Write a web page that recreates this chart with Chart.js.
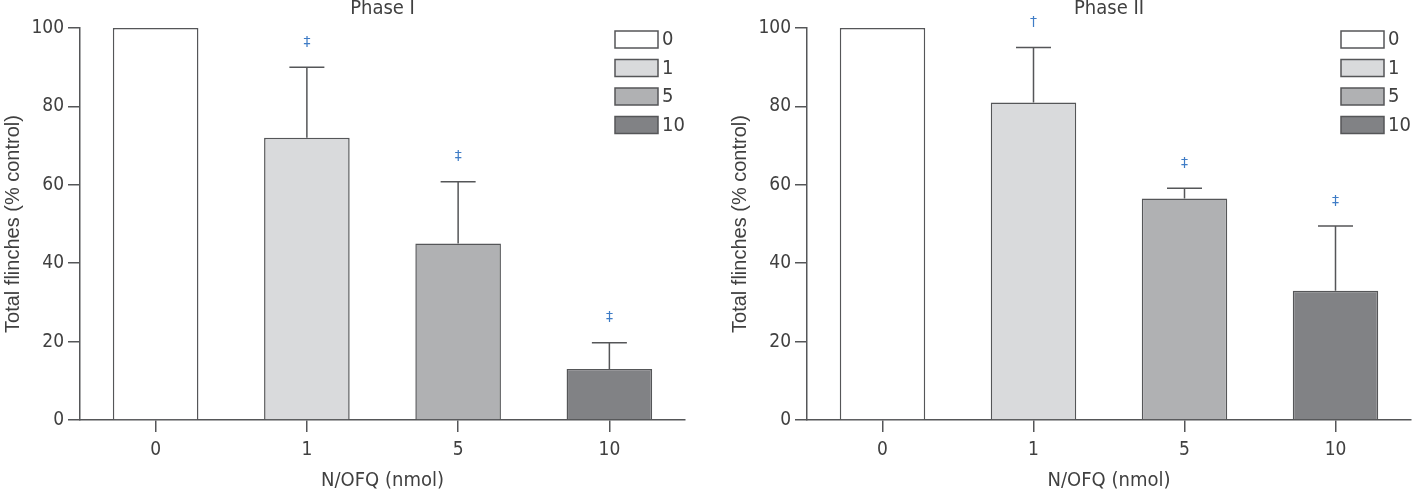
<!DOCTYPE html>
<html>
<head>
<meta charset="utf-8">
<script src="https://cdn.jsdelivr.net/npm/chart.js@4"></script>
<style>
  html, body { margin: 0; padding: 0; background: #fff; }
  body { width: 1417px; height: 493px; position: relative; overflow: hidden; }
  canvas { position: absolute; top: 0; }
</style>
</head>
<body>
<canvas id="phase1" width="700" height="493" style="left:0"></canvas>
<canvas id="phase2" width="717" height="493" style="left:700px"></canvas>
<script>
const doses = ['0', '1', '5', '10'];
const yTicks = [0, 20, 40, 60, 80, 100];

const phase1Means = [100, 72, 45, 13];
const phase1Sem = [0, 18, 15.8, 6.7];
const phase1Marks = ['', '\u2021', '\u2021', '\u2021'];

const phase2Means = [100, 81, 56.5, 33];
const phase2Sem = [0, 14, 2.6, 16.5];
const phase2Marks = ['', '\u2020', '\u2021', '\u2021'];

const barColors = ['#ffffff', '#d9dadc', '#b0b1b3', '#818285'];
const edge = '#555658';
const txt = '#404040';
const narrow = "'Liberation Sans Narrow', 'DejaVu Sans Condensed', sans-serif";

// error bars (upper only) + significance marks
const errorBars = {
  id: 'errorBars',
  afterDatasetsDraw(chart, args, opts) {
    const ctx = chart.ctx;
    const y = chart.scales.y;
    const ds = chart.data.datasets[0];
    const meta = chart.getDatasetMeta(0);
    ctx.save();
    ctx.strokeStyle = edge;
    ctx.lineWidth = 1.5;
    meta.data.forEach((bar, i) => {
      const err = opts.sem[i];
      let top = bar.y;
      if (err) {
        top = y.getPixelForValue(ds.data[i] + err);
        ctx.beginPath();
        ctx.moveTo(bar.x, bar.y);
        ctx.lineTo(bar.x, top);
        ctx.moveTo(bar.x - 17.5, top);
        ctx.lineTo(bar.x + 17.5, top);
        ctx.stroke();
      }
      if (opts.marks[i]) {
        ctx.fillStyle = '#3f7cc6';
        ctx.font = "14px 'DejaVu Sans', sans-serif";
        ctx.textAlign = 'center';
        ctx.textBaseline = 'middle';
        ctx.fillText(opts.marks[i], bar.x, top - 25);
      }
    });
    ctx.restore();
  }
};

// boxed legend at top right of the plot area
const boxLegend = {
  id: 'boxLegend',
  afterDraw(chart) {
    const ctx = chart.ctx;
    const area = chart.chartArea;
    const ds = chart.data.datasets[0];
    ctx.save();
    ctx.font = '20px ' + narrow;
    ctx.textBaseline = 'middle';
    ctx.textAlign = 'left';
    chart.data.labels.forEach((lab, i) => {
      const bx = area.right - 70;
      const by = area.top + 3 + i * 28.5;
      ctx.fillStyle = ds.backgroundColor[i];
      ctx.fillRect(bx, by, 43, 17);
      ctx.strokeStyle = edge;
      ctx.lineWidth = 1.5;
      ctx.strokeRect(bx, by, 43, 17);
      ctx.fillStyle = txt;
      ctx.fillText(lab, bx + 47, by + 9);
    });
    ctx.restore();
  }
};

function makeChart(id, title, means, sem, marks, padLeft, padRight) {
  return new Chart(document.getElementById(id), {
    type: 'bar',
    data: {
      labels: doses,
      datasets: [{
        data: means,
        backgroundColor: barColors,
        borderColor: edge,
        borderWidth: 1.5,
        categoryPercentage: 1,
        barPercentage: 0.566
      }]
    },
    options: {
      responsive: false,
      animation: false,
      layout: { padding: { left: padLeft, right: padRight, top: 0, bottom: 0 } },
      plugins: {
        legend: { display: false },
        tooltip: { enabled: false },
        title: {
          display: true,
          text: title,
          fullSize: false,
          color: txt,
          font: { family: narrow, size: 20, weight: 'normal' },
          padding: { top: -3, bottom: 7 }
        },
        errorBars: { sem: sem, marks: marks }
      },
      scales: {
        x: {
          afterFit: s => { s.height = 73; },
          grid: { drawOnChartArea: false, offset: false, tickLength: 12, color: edge, lineWidth: 1.5 },
          border: { display: true, color: edge, width: 1.5 },
          ticks: { color: txt, padding: 7, font: { family: narrow, size: 19 } },
          title: {
            display: true,
            text: 'N/OFQ (nmol)',
            color: txt,
            font: { family: narrow, size: 20 },
            padding: { top: 5, bottom: 0 }
          }
        },
        y: {
          min: 0,
          max: 100,
          afterBuildTicks: s => { s.ticks = yTicks.map(v => ({ value: v })); },
          afterFit: s => { s.width = 80; },
          grid: { drawOnChartArea: false, tickLength: 12, color: edge, lineWidth: 1.5 },
          border: { display: true, color: edge, width: 1.5 },
          ticks: { color: txt, padding: 4, font: { family: narrow, size: 19 } },
          title: {
            display: true,
            text: 'Total flinches (% control)',
            color: txt,
            font: { family: "'Liberation Sans', Arial, sans-serif", size: 20 },
            padding: { top: 1, bottom: 0 }
          }
        }
      }
    },
    plugins: [errorBars, boxLegend]
  });
}

makeChart('phase1', 'Phase I', phase1Means, phase1Sem, phase1Marks, 0, 15);
makeChart('phase2', 'Phase II', phase2Means, phase2Sem, phase2Marks, 27, 6);
</script>
</body>
</html>
